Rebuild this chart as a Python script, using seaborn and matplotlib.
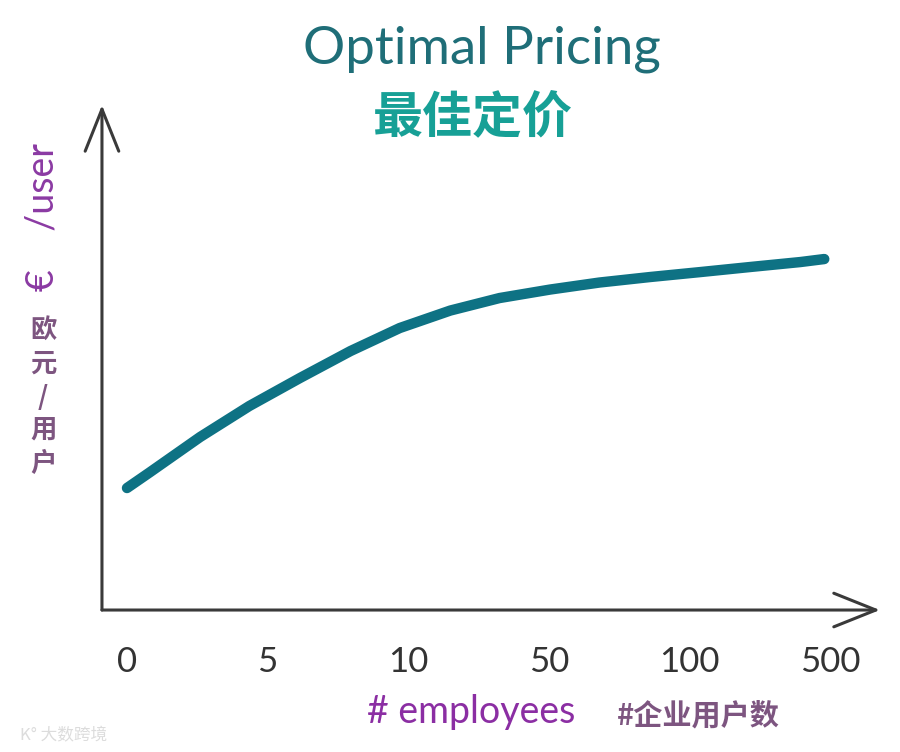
import pandas as pd
import seaborn as sns
import matplotlib.pyplot as plt

# ------------------------------------------------------------------
# data
# ------------------------------------------------------------------
employee_labels = ["0", "5", "10", "50", "100", "500"]
# curve position along the category axis (0 = "0", 5 = "500") and price level
curve_pos = [0.0, 0.16, 0.52, 0.87, 1.23, 1.59, 1.94, 2.30, 2.65,
             3.01, 3.36, 3.72, 4.08, 4.43, 4.79, 4.96]
price_per_user = [24.4, 27.5, 34.6, 40.8, 46.4, 51.8, 56.4, 59.9, 62.4,
                  64.1, 65.5, 66.6, 67.6, 68.6, 69.6, 70.2]

df = pd.DataFrame({"pos": curve_pos, "price": price_per_user})

sns.set_style("white")
plt.rcParams['font.family'] = ['Lato', 'Noto Sans CJK SC', 'DejaVu Sans']

fig = plt.figure(figsize=(9, 7.52), dpi=100)
ax = fig.add_axes([0.1133, 0.1888, 0.8644, 0.6715])

sns.lineplot(x="pos", y="price", data=df, ax=ax, color="#0e7284",
             linewidth=7.5, solid_capstyle="round", solid_joinstyle="round",
             sort=False)

ax.set_xlim(-0.178, 5.356)
ax.set_ylim(0, 101)
for s in ax.spines.values():
    s.set_visible(False)

# hand-drawn style axes with open arrow heads
arrow_kw = dict(arrowstyle="->, head_length=0.55, head_width=0.22",
                lw=2.2, color="#3a3a3a", mutation_scale=55, shrinkA=0, shrinkB=0)
ax.annotate("", xy=(1.0, 0), xytext=(0, 0), xycoords="axes fraction",
            arrowprops=arrow_kw, annotation_clip=False)
ax.annotate("", xy=(0, 1.0), xytext=(0, 0), xycoords="axes fraction",
            arrowprops=arrow_kw, annotation_clip=False)

ax.set_xticks(range(len(employee_labels)))
ax.set_xticklabels(employee_labels, fontsize=25, color="#333333")
ax.tick_params(axis="x", length=0, pad=26)
ax.set_yticks([])
ax.set_xlabel("")
ax.set_ylabel("")

# titles
fig.text(0.535, 0.935, "Optimal Pricing", ha="center", va="center",
         fontsize=38, color="#1f6e78", family=["Lato", "DejaVu Sans"])
fig.text(0.525, 0.843, "最佳定价", ha="center", va="center",
         fontsize=36, color="#17a096", fontweight="bold",
         family=["Noto Sans CJK SC", "DejaVu Sans"])

# y label
fig.text(0.047, 0.711, "€    /user", ha="center", va="center", rotation=90,
         fontsize=27, color="#8b3aa3", family=["Lato", "DejaVu Sans"])
fig.text(0.048, 0.472, "欧\n元\n/\n用\n户", ha="center", va="center",
         fontsize=19, color="#7d5580", fontweight="bold", linespacing=1.3,
         family=["Noto Sans CJK SC", "DejaVu Sans"])

# x label
fig.text(0.523, 0.053, "# employees", ha="center", va="center",
         fontsize=27, color="#8b2ea3", family=["Lato", "DejaVu Sans"])
fig.text(0.776, 0.049, "#企业用户数", ha="center", va="center",
         fontsize=21, color="#7d5580", fontweight="bold",
         family=["Noto Sans CJK SC", "DejaVu Sans"])

# watermark
fig.text(0.022, 0.022, "K° 大数跨境", ha="left", va="center",
         fontsize=12, color="#dcdcdc",
         family=["Noto Sans CJK SC", "DejaVu Sans"])

plt.savefig("out.png", dpi=100)
print("Saved out.png")
